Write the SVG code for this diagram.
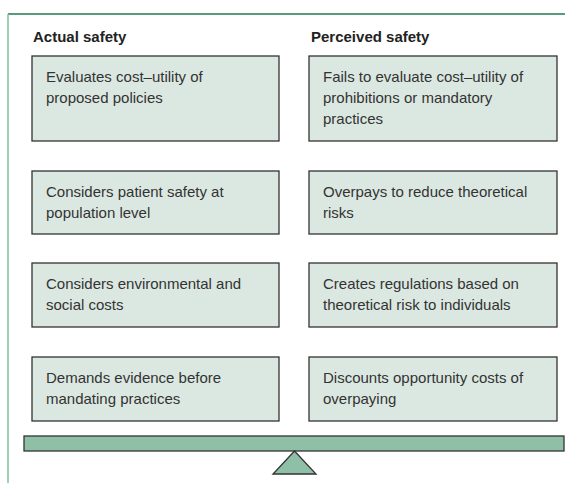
<svg xmlns="http://www.w3.org/2000/svg" width="565" height="483" viewBox="0 0 565 483">
<style>
.hdr{font-family:"Liberation Sans",Arial,sans-serif;font-size:15px;font-weight:bold;fill:#222}
.box{fill:#dbe8e1;stroke:#333;stroke-width:1.3}
.txt{font-family:"Liberation Sans",Arial,sans-serif;font-size:15px;fill:#333}
.base{fill:#8fbfa6;stroke:#333;stroke-width:1.3}
</style>
<rect width="565" height="483" fill="#fff"/>
<g id="frame">
<line x1="8" y1="14" x2="565" y2="14" stroke="#1f7a52" stroke-width="1.5"/>
<line x1="8" y1="14" x2="8" y2="483" stroke="#80bfa0" stroke-width="1.5"/>
</g>
<g id="headers">
<text class="hdr" x="33" y="42">Actual safety</text>
<text class="hdr" x="311" y="42">Perceived safety</text>
</g>
<g id="a1"><rect class="box" x="32" y="56" width="247" height="85"/><text class="txt" x="46" y="82">Evaluates cost–utility of</text><text class="txt" x="46" y="103">proposed policies</text></g>
<g id="p1"><rect class="box" x="309" y="56" width="248" height="85"/><text class="txt" x="323" y="82">Fails to evaluate cost–utility of</text><text class="txt" x="323" y="103">prohibitions or mandatory</text><text class="txt" x="323" y="124">practices</text></g>
<g id="a2"><rect class="box" x="32" y="171" width="247" height="63"/><text class="txt" x="46" y="197">Considers patient safety at</text><text class="txt" x="46" y="218">population level</text></g>
<g id="p2"><rect class="box" x="309" y="171" width="248" height="63"/><text class="txt" x="323" y="197">Overpays to reduce theoretical</text><text class="txt" x="323" y="218">risks</text></g>
<g id="a3"><rect class="box" x="32" y="263" width="247" height="64"/><text class="txt" x="46" y="289">Considers environmental and</text><text class="txt" x="46" y="310">social costs</text></g>
<g id="p3"><rect class="box" x="309" y="263" width="248" height="64"/><text class="txt" x="323" y="289">Creates regulations based on</text><text class="txt" x="323" y="310">theoretical risk to individuals</text></g>
<g id="a4"><rect class="box" x="32" y="357" width="247" height="64"/><text class="txt" x="46" y="383">Demands evidence before</text><text class="txt" x="46" y="404">mandating practices</text></g>
<g id="p4"><rect class="box" x="309" y="357" width="248" height="64"/><text class="txt" x="323" y="383">Discounts opportunity costs of</text><text class="txt" x="323" y="404">overpaying</text></g>
<g id="scale">
<rect class="base" x="24" y="436" width="540" height="15"/>
<polygon class="base" points="294.5,451 273,474 316,474"/>
</g>
<g id="connectors"></g>
</svg>
